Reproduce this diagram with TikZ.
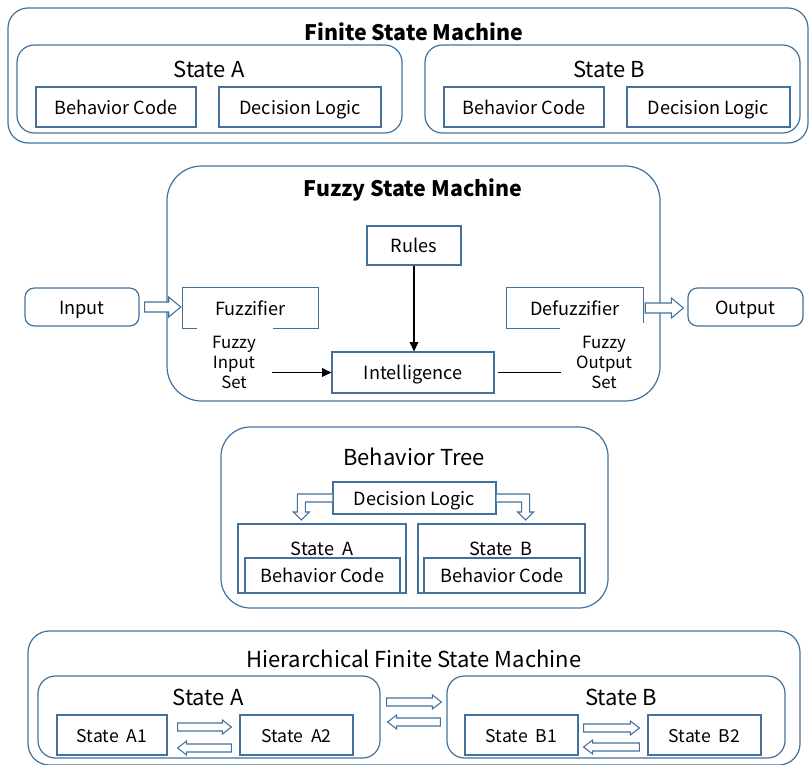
\documentclass[tikz,border=0pt]{standalone}
\usepackage{fontspec}
\setmainfont{Noto Sans CJK KR}
\usetikzlibrary{calc,arrows.meta}
\definecolor{edge}{HTML}{41719C}

% hollow block arrow between two points at the same height:
% #1 tail, #2 tip, #3 half shaft, #4 half head, #5 head length (all in px)
\newcommand\hollowarrow[5]{%
  \draw[hol] let \p1=#1, \p2=#2, \n1={sign(\x2-\x1)},
      \n2={#3*0.75}, \n3={#4*0.75}, \n4={#5*0.75} in
    (\x1,{\y1+\n2}) -- ({\x2-\n1*\n4},{\y1+\n2}) -- ({\x2-\n1*\n4},{\y1+\n3})
    -- (\x2,\y1) -- ({\x2-\n1*\n4},{\y1-\n3}) -- ({\x2-\n1*\n4},{\y1-\n2})
    -- (\x1,{\y1-\n2}) -- cycle;}

\tikzset{
  sz/.style 2 args={minimum width=#1*0.75pt, minimum height=#2*0.75pt},
  txt/.style={text height=1.14em, text depth=0.08em},
  frame/.style={draw=edge, line width=0.9pt, rounded corners=#1, inner sep=0pt},
  box/.style={draw=edge, line width=0.9pt, fill=white, inner sep=0pt, txt,
    font=\fontsize{13.6}{16}\selectfont},
  rbox/.style={box, rounded corners=7pt},
  bare/.style={inner sep=0pt, txt, font=\fontsize{13.6}{16}\selectfont},
  title/.style={inner sep=0pt, txt, font=\bfseries\fontsize{16}{19}\selectfont},
  head/.style={inner sep=0pt, txt, font=\fontsize{16.5}{19}\selectfont},
  small/.style={box, font=\fontsize{13.2}{15}\selectfont},
  note/.style={inner sep=0pt, align=center, font=\fontsize{12.6}{15}\selectfont},
  hol/.style={draw=edge, line width=0.8pt, fill=white},
  ptr/.style={line width=0.8pt, -{Triangle[length=7pt, width=6.5pt]}},
}

\begin{document}
\begin{tikzpicture}[x=0.75pt, y=-0.75pt]
\useasboundingbox (0,0) rectangle (809,764);

% ---------------- Finite State Machine ----------------
\node[frame=15pt, sz={800}{135}] (fsm) at (408,75.5) {};
\node[title] (fsmT) at (414,33) {Finite State Machine};
\node[frame=13pt, sz={385}{88}] (fsmA) at (209.5,89) {};
\node[head] (fsmAT) at (209,70) {State A};
\node[box, sz={160}{40}] (fsmAbc) at (116,107) {Behavior Code};
\node[box, sz={162}{40}] (fsmAdl) at (300,107) {Decision Logic};
\node[frame=13pt, sz={375}{88}] (fsmB) at (612.5,89) {};
\node[head] (fsmBT) at (609,70) {State B};
\node[box, sz={160}{40}] (fsmBbc) at (524,107) {Behavior Code};
\node[box, sz={163}{40}] (fsmBdl) at (708.5,107) {Decision Logic};

% ---------------- Fuzzy State Machine ----------------
\node[frame=26pt, sz={493}{235}] (fz) at (413.5,283.5) {};
\node[title] (fzT) at (413,189) {Fuzzy State Machine};
\node[box, sz={94}{39}] (rules) at (414,245.5) {Rules};
\node[rbox, sz={114}{38}] (input) at (82,307) {Input};
\node[rbox, sz={115}{38}] (output) at (745.5,307) {Output};
\node[bare, sz={135}{40}] (fuzz) at (250.5,308) {Fuzzifier};
\node[bare, sz={136}{40}] (defuzz) at (575,308) {Defuzzifier};
\node[box, sz={162}{41}] (intel) at (413,372.5) {Intelligence};
\node[note] (fis) at (234,362) {Fuzzy\\Input\\Set};
\node[note] (fos) at (604,362) {Fuzzy\\Output\\Set};

\draw[draw=edge, line width=0.9pt]
  ($(fuzz.south west)+(14,0)$) -- (fuzz.south west) -- (fuzz.north west)
  -- (fuzz.north east) -- (fuzz.south east) -- ($(fuzz.south east)+(-45,0)$);
\draw[draw=edge, line width=0.9pt]
  ($(defuzz.south west)+(53,0)$) -- (defuzz.south west) -- (defuzz.north west)
  -- (defuzz.north east) -- ($(defuzz.south east)+(0,-5)$);

\hollowarrow{($(input.east)+(5,0)$)}{($(fuzz.west)+(-2,0)$)}{5}{10}{12}
\hollowarrow{($(defuzz.east)+(2,0)$)}{($(output.west)+(-4,0)$)}{5}{10}{12}

\coordinate (fisend) at ($(intel.west)+(-59,0)$);
\coordinate (fosend) at ($(intel.east)+(66,0)$);
\draw[ptr] (rules.south) -- (rules.south |- intel.north);
\draw[ptr] (fisend) -- (intel.west);
\draw[line width=0.8pt] ($(intel.east)+(3,0)$) -- (fosend);

% ---------------- Behavior Tree ----------------
\node[frame=22pt, sz={387}{181}] (bt) at (414.5,517.5) {};
\node[head] (btT) at (414,458) {Behavior Tree};
\node[box, sz={163}{32}] (btdl) at (414.5,498) {Decision Logic};
\node[box, sz={168}{69}] (btA) at (322,558.5) {};
\node[bare] (btAT) at (322,548) {State\ \ A};
\node[box, sz={155}{35}] (btAbc) at (322.5,575.5) {Behavior Code};
\node[box, sz={167}{69}] (btB) at (501.5,558.5) {};
\node[bare] (btBT) at (501,548) {State\ \ B};
\node[box, sz={156}{35}] (btBbc) at (502,575.5) {Behavior Code};

\begin{scope}[shift={(btdl.west)}]
  \draw[hol] (0,-4) -- (-35,-4) -- (-35,14) -- (-39,14) -- (-31,22)
    -- (-23,14) -- (-27,14) -- (-27,4) -- (0,4);
\end{scope}
\begin{scope}[shift={(btdl.east)}]
  \draw[hol] (0,-4) -- (33,-4) -- (33,14) -- (37,14) -- (29,22)
    -- (21,14) -- (25,14) -- (25,4) -- (0,4);
\end{scope}

% ---------------- Hierarchical Finite State Machine ----------------
\node[frame=16pt, sz={772}{134}] (hf) at (414,698) {};
\node[head] (hfT) at (414,660) {Hierarchical Finite State Machine};
\node[frame=13pt, sz={342}{82}] (hfA) at (209,717) {};
\node[head] (hfAT) at (208,698) {State A};
\node[small, sz={110}{40}] (a1) at (112,735) {State\ \ A1};
\node[small, sz={113}{40}] (a2) at (296.5,735) {State\ \ A2};
\node[frame=13pt, sz={338}{82}] (hfB) at (616,717) {};
\node[head] (hfBT) at (621,698) {State B};
\node[small, sz={113}{40}] (b1) at (521.5,735) {State\ \ B1};
\node[small, sz={113}{40}] (b2) at (704.5,735) {State\ \ B2};

\hollowarrow{($(a1.east)+(10,-8)$)}{($(a2.west)+(-8,-8)$)}{4}{7}{9}
\hollowarrow{($(a2.west)+(-8,13)$)}{($(a1.east)+(10,13)$)}{4}{7}{9}
\hollowarrow{($(b1.east)+(5,-7)$)}{($(b2.west)+(-8,-7)$)}{4}{7}{9}
\hollowarrow{($(b2.west)+(-8,12)$)}{($(b1.east)+(5,12)$)}{4}{7}{9}
\hollowarrow{($(hfA.east)+(6,-15)$)}{($(hfB.west)+(-5,-15)$)}{4}{7}{9}
\hollowarrow{($(hfB.west)+(-6,5)$)}{($(hfA.east)+(7,5)$)}{4}{7}{9}
\end{tikzpicture}
\end{document}
